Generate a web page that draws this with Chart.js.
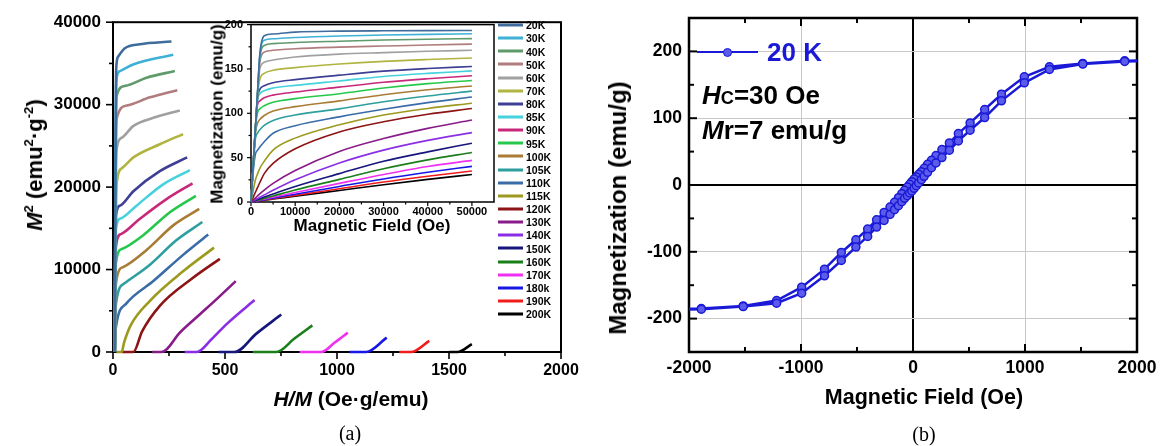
<!DOCTYPE html>
<html>
<head>
<meta charset="utf-8">
<script src="https://cdn.jsdelivr.net/npm/chart.js@4.4.1/dist/chart.umd.min.js"></script>
<style>
  html, body { margin: 0; padding: 0; background: #fff; }
  #stage { position: relative; width: 1171px; height: 446px; overflow: hidden;
           font-family: 'Liberation Sans', Arial, sans-serif; color: #000; }
  canvas { position: absolute; }
  .t { position: absolute; white-space: nowrap; font-weight: bold; line-height: 1; }
  .c { transform: translate(-50%, -50%); }
  .v { transform: translate(-50%, -50%) rotate(-90deg); }
  .l { transform: translateY(-50%); }
  .t sup { font-size: 0.6em; vertical-align: 0.65em; line-height: 0; }
  .cap { position: absolute; white-space: nowrap; line-height: 1; font-size: 20px;
         font-family: 'Liberation Serif', 'Times New Roman', serif; transform: translate(-50%, -50%); }
  #legendA { position: absolute; left: 498px; top: 25px; }
  .lgrow { position: absolute; left: 0; display: flex; align-items: center; height: 13px;
           transform: translateY(-50%); }
  .sw { display: inline-block; width: 25px; height: 3px; }
  .lt { margin-left: 3px; font-size: 10.5px; font-weight: bold; line-height: 1; }
</style>
</head>
<body>
<div id="stage">
  <canvas id="arrott" width="600" height="446" style="left:0;top:0"></canvas>
  <canvas id="isotherms" width="305" height="230" style="left:195px;top:10px"></canvas>
  <canvas id="loop" width="571" height="446" style="left:600px;top:0"></canvas>

  <!-- panel (a) labels -->
  <div class="t v" style="left:35px;top:165px;font-size:22px"><i>M</i><sup>2</sup> (emu<sup>2</sup>·g<sup>-2</sup>)</div>
  <div class="t c" style="left:351px;top:398px;font-size:21px"><i>H/M</i> (Oe·g/emu)</div>
  <div class="cap" style="left:350px;top:433px">(a)</div>
  <div class="t v" style="left:217px;top:114px;font-size:17px">Magnetization (emu/g)</div>
  <div class="t c" style="left:372px;top:225px;font-size:17px">Magnetic Field (Oe)</div>
  <div id="legendA"></div>

  <!-- panel (b) labels -->
  <div class="t v" style="left:618px;top:208px;font-size:24px">Magnetization (emu/g)</div>
  <div class="t c" style="left:924px;top:398px;font-size:21.5px">Magnetic Field (Oe)</div>
  <div class="cap" style="left:924px;top:434px">(b)</div>
  <div id="legendB"></div>
  <div class="t l" style="left:702px;top:95px;font-size:26px"><i>H</i><span style="font-size:0.7em">C</span>=30 Oe</div>
  <div class="t l" style="left:702px;top:130px;font-size:26px"><i>M</i>r=7 emu/g</div>
</div>

<script>
// ---- Temperatures of the isotherms and their line colours ----
const temperatures = ['20K','30K','40K','50K','60K','70K','80K','85K','90K','95K','100K','105K',
                      '110K','115K','120K','130K','140K','150K','160K','170K','180k','190K','200K'];
const seriesColors = ['#3f6c9b','#3fb0d6','#5f9a6a','#b07c7c','#a0a0a0','#b0b440','#3d3f94','#46d2dc',
                      '#c8287a','#26c84c','#a87c34','#2e9e9e','#3a6ca8','#9c9a1e','#8c1414','#881c88',
                      '#8a2ee6','#16167c','#1a7e1a','#f030f0','#1818e6','#f01c1c','#000000'];

// ---- Arrott plot: [H/M (Oe·g/emu), M² (emu²·g⁻²)] per temperature ----
const arrott20  = [[8,0],[11,22000],[13,32000],[16,35000],[24,35860],[53,36850],[120,37330],[261,37650]];
const arrott30  = [[8,0],[11,21000],[13,30000],[16.5,33280],[31,34070],[90,34870],[269,36060]];
const arrott40  = [[8,0],[11,19000],[13,27500],[16.3,31080],[53.5,32280],[150,33270],[276,34070]];
const arrott50  = [[8,0],[11,18000],[13,25000],[16.3,28300],[61,29890],[165,30885],[287,31760]];
const arrott60  = [[8,0],[11,16000],[13,21500],[16,24520],[40,26000],[90,27400],[180,28400],[298,29290]];
const arrott70  = [[8,0],[11,12000],[13,16500],[17,20600],[40,22300],[91,23600],[209,25200],[313,26430]];
const arrott80  = [[8,0],[11,12000],[13.4,16560],[31,17750],[91,19500],[209,21930],[331,23600]];
const arrott85  = [[8,0],[11,11000],[13,14960],[31,16150],[105,17750],[224,20340],[343,22050]];
const arrott90  = [[8,0],[11,9500],[13,12800],[35,14300],[120,16160],[239,18550],[355,20460]];
const arrott95  = [[8,0],[11,8000],[13,10800],[40,12500],[135,14170],[254,16950],[370,18945]];
const arrott100 = [[8,0],[11,6000],[13,8300],[45,10300],[150,12380],[269,15360],[385,17350]];
const arrott105 = [[8,0],[11,4200],[13,5800],[50,8300],[165,10590],[284,13570],[399,15760]];
const arrott110 = [[8,0],[11,2200],[13,3000],[60,5900],[180,8600],[313,11780],[425,14250]];
const arrott115 = [[15,0],[38.6,0],[50,1200],[80,3300],[165,6210],[313,9790],[451,12660]];
const arrott120 = [[40,0],[91,0],[130,2500],[209,5600],[350,8850],[477,11300]];
const arrott130 = [[175,0],[217,0],[300,2400],[387,4550],[470,6600],[548,8600]];
const arrott140 = [[320,0],[373,0],[440,1550],[506,3350],[632,6300]];
const arrott150 = [[470,0],[543,0],[640,2230],[751,4540]];
const arrott160 = [[624,0],[729,0],[810,1630],[890,3224]];
const arrott170 = [[833,0],[930,0],[990,1150],[1048,2350]];
const arrott180 = [[1056,0],[1130,0],[1222,1750]];
const arrott190 = [[1278,0],[1330,0],[1412,1350]];
const arrott200 = [[1501,0],[1538,0],[1602,955]];
const arrottXTicks = [0, 500, 1000, 1500, 2000];
const arrottYTicks = [0, 10000, 20000, 30000, 40000];

// ---- Inset: magnetization (emu/g) vs applied field (Oe) ----
const fieldOe = [0, 500, 1000, 1500, 2000, 3000, 5000, 10000, 20000, 30000, 40000, 50000];
const mag20  = [0, 42, 83, 125, 167, 187.5, 189.4, 191.5, 192.6, 193, 193.2, 193.3];
const mag30  = [0, 42, 83, 125, 165, 182.4, 184, 185.5, 187.2, 188.2, 189, 189.6];
const mag40  = [0, 42, 83, 125, 163, 176.5, 178.5, 179.8, 181.3, 182.6, 183.5, 184.2];
const mag50  = [0, 42, 83, 124, 158, 169, 171, 172.8, 174.6, 175.8, 177, 178];
const mag60  = [0, 42, 83, 123, 150, 157.5, 160, 163.5, 166.7, 168.4, 169.9, 171];
const mag70  = [0, 42, 83, 120, 138, 145, 148.5, 151.5, 155.5, 158.5, 160.6, 162.3];
const mag80  = [0, 42, 83, 118, 127, 131, 134.5, 138, 143, 147.5, 150.5, 152.8];
const mag85  = [0, 42, 83, 115, 122, 125.5, 128.5, 131.5, 136.5, 141.5, 145, 147.8];
const mag90  = [0, 42, 83, 110, 114, 117.5, 120.5, 124, 129.5, 135, 139, 142.3];
const mag95  = [0, 42, 83, 101, 105, 108.5, 112.5, 116.5, 122, 128.5, 133.5, 137];
const mag100 = [0, 42, 78, 89, 93, 97.5, 102.5, 107.5, 114, 121, 126.5, 130.8];
const mag105 = [0, 38, 71, 78, 81.5, 86.5, 92, 98, 105, 113, 119.5, 125];
const mag110 = [0, 34, 54, 58.5, 62, 68, 77.5, 86, 96, 104.5, 112, 118.4];
const mag115 = [0, 13, 25, 32, 38, 46, 58.5, 72, 87, 98, 105.5, 111.4];
const mag120 = [0, 5.5, 11, 16.5, 22, 32, 43.5, 60, 79, 90.5, 99, 105.4];
const mag130 = [0, 2.3, 4.6, 6.9, 9.2, 13.5, 21, 35.5, 57, 71.5, 83, 92.4];
const mag140 = [0, 1.3, 2.7, 4, 5.4, 8, 13.2, 25, 44, 58.5, 69.5, 78.2];
const mag150 = [0, 0.9, 1.8, 2.8, 3.7, 5.5, 9, 17.5, 32, 46, 56.5, 66.3];
const mag160 = [0, 0.7, 1.4, 2.1, 2.7, 4.1, 6.8, 13.5, 25.5, 37.5, 47.5, 55.9];
const mag170 = [0, 0.5, 1.1, 1.6, 2.2, 3.2, 5.4, 10.7, 21, 31, 40, 46.9];
const mag180 = [0, 0.4, 0.9, 1.3, 1.8, 2.7, 4.4, 8.8, 17.5, 26, 33.5, 40.2];
const mag190 = [0, 0.4, 0.8, 1.1, 1.5, 2.3, 3.8, 7.5, 15, 22.5, 29, 35];
const mag200 = [0, 0.3, 0.7, 1, 1.3, 2, 3.3, 6.5, 13, 19.5, 25.5, 31];
const insetXTicks = [0, 10000, 20000, 30000, 40000, 50000];
const insetYTicks = [0, 50, 100, 150, 200];

// ---- Hysteresis loop at 20 K: field (Oe) and magnetization (emu/g) ----
const loopFieldDown = [2400, 1890, 1516, 1218, 994, 790, 640, 510, 405, 325, 258, 205, 165, 130, 100, 75, 50, 30, 10,
                       -10, -30, -50, -75, -100, -130, -165, -205, -258, -325, -405, -510, -640, -790, -994, -1218, -1516, -1890, -2400];
const loopMagDown   = [187, 186, 182, 177, 162, 136, 113, 93, 77, 63, 53, 44, 37, 31, 25, 20, 16, 12, 9,
                       5, 1, -3, -8, -13, -19, -26, -33, -41, -52, -66, -82, -101, -126, -153, -173, -181, -185, -186];
const loopFieldUp   = [-2400, -1890, -1516, -1218, -994, -790, -640, -510, -405, -325, -258, -205, -165, -130, -100, -75, -50, -30, -10,
                       10, 30, 50, 75, 100, 130, 165, 205, 258, 325, 405, 510, 640, 790, 994, 1218, 1516, 1890, 2400];
const loopMagUp     = [-187, -186, -182, -177, -162, -136, -113, -93, -77, -63, -53, -44, -37, -31, -25, -20, -16, -12, -9,
                       -5, -1, 3, 8, 13, 19, 26, 33, 41, 52, 66, 82, 101, 126, 153, 173, 181, 185, 186];
const loopLabel = '20 K';
const loopXTicks = [-2000, -1000, 0, 1000, 2000];
const loopYTicks = [-200, -100, 0, 100, 200];

// ---------------------------------------------------------------------------
const arrottSeries = [arrott20, arrott30, arrott40, arrott50, arrott60, arrott70, arrott80, arrott85, arrott90,
                      arrott95, arrott100, arrott105, arrott110, arrott115, arrott120, arrott130, arrott140,
                      arrott150, arrott160, arrott170, arrott180, arrott190, arrott200];
const magSeries = [mag20, mag30, mag40, mag50, mag60, mag70, mag80, mag85, mag90, mag95, mag100, mag105,
                   mag110, mag115, mag120, mag130, mag140, mag150, mag160, mag170, mag180, mag190, mag200];

Chart.defaults.color = '#000';
Chart.defaults.font.family = "'Liberation Sans', Arial, sans-serif";
Chart.defaults.font.weight = 'bold';

// Frame box plus tick marks placed through each scale's own pixel mapping
const frame = {
  id: 'frame',
  beforeDraw(chart, args, o) {
    if (!o.fill) return;
    const a = chart.chartArea, ctx = chart.ctx;
    ctx.save();
    ctx.fillStyle = o.fill;
    ctx.fillRect(a.left, a.top, a.right - a.left, a.bottom - a.top);
    ctx.restore();
  },
  beforeDatasetsDraw(chart, args, o) {
    const {ctx, chartArea: a, scales} = chart;
    ctx.save();
    ctx.strokeStyle = '#000';
    (o.marks || []).forEach(m => {
      const s = scales[m.scale];
      const end = m.to !== undefined ? m.to : s.max;
      const n = Math.round((end - s.min) / m.step);
      ctx.lineWidth = m.width;
      for (let i = 0; i <= n; i++) {
        const v = s.min + i * m.step;
        const major = Math.abs(v / m.major - Math.round(v / m.major)) < 1e-6;
        const len = major ? m.len : m.minorLen;
        const d = m.inward ? len : -len;
        const p = s.getPixelForValue(v);
        m.sides.forEach(side => {
          ctx.beginPath();
          if (side === 'bottom') { ctx.moveTo(p, a.bottom); ctx.lineTo(p, a.bottom - d); }
          else if (side === 'top') { ctx.moveTo(p, a.top); ctx.lineTo(p, a.top + d); }
          else if (side === 'left') { ctx.moveTo(a.left, p); ctx.lineTo(a.left + d, p); }
          else { ctx.moveTo(a.right, p); ctx.lineTo(a.right - d, p); }
          ctx.stroke();
        });
      }
    });
    ctx.lineWidth = o.lineWidth;
    ctx.strokeRect(a.left, a.top, a.right - a.left, a.bottom - a.top);
    ctx.restore();
  }
};

const setTicks = values => scale => { scale.ticks = values.map(v => ({ value: v })); };
const plainLabel = v => String(v);

// ---- Panel (a): Arrott plot ----
new Chart(document.getElementById('arrott'), {
  type: 'scatter',
  data: {
    datasets: temperatures.map((t, i) => ({
      label: t,
      data: arrottSeries[i].map(([x, y]) => ({ x, y })),
      showLine: true,
      borderColor: seriesColors[i],
      backgroundColor: seriesColors[i],
      borderWidth: 2.6,
      pointRadius: 0,
      cubicInterpolationMode: 'monotone',
      clip: false
    }))
  },
  options: {
    responsive: false, animation: false, events: [],
    layout: { padding: { top: 17, right: 39, left: 0, bottom: 0 } },
    plugins: {
      legend: { display: false }, tooltip: { enabled: false },
      frame: { lineWidth: 2, marks: [
        { scale: 'x', step: 250, major: 500, len: 7, minorLen: 4, sides: ['bottom'], inward: false, width: 1.6 },
        { scale: 'y', step: 5000, major: 10000, len: 7, minorLen: 4, sides: ['left'], inward: false, width: 1.6 }
      ] }
    },
    scales: {
      x: {
        type: 'linear', min: 0, max: 2000,
        afterBuildTicks: setTicks(arrottXTicks),
        afterFit: s => { s.height = 94; },
        grid: { display: false, drawTicks: false }, border: { display: false },
        ticks: { padding: 9, autoSkip: false, maxRotation: 0, font: { size: 16, weight: 'bold' }, callback: plainLabel }
      },
      y: {
        type: 'linear', min: 0, max: 40000,
        afterBuildTicks: setTicks(arrottYTicks),
        afterFit: s => { s.width = 113; },
        grid: { display: false, drawTicks: false }, border: { display: false },
        ticks: { padding: 12, autoSkip: false, font: { size: 17, weight: 'bold' }, callback: plainLabel }
      }
    }
  },
  plugins: [frame]
});

// ---- Panel (a) inset: M–H isotherms ----
new Chart(document.getElementById('isotherms'), {
  type: 'scatter',
  data: {
    datasets: temperatures.map((t, i) => ({
      label: t,
      data: fieldOe.map((h, k) => ({ x: h, y: magSeries[i][k] })),
      showLine: true,
      borderColor: seriesColors[i],
      backgroundColor: seriesColors[i],
      borderWidth: 1.6,
      pointRadius: 0,
      cubicInterpolationMode: 'monotone',
      clip: false
    }))
  },
  options: {
    responsive: false, animation: false, events: [],
    layout: { padding: { top: 13, right: 6, left: 0, bottom: 0 } },
    plugins: {
      legend: { display: false }, tooltip: { enabled: false },
      frame: { lineWidth: 1.5, fill: '#fff', marks: [
        { scale: 'x', step: 5000, major: 10000, to: 50000, len: 4, minorLen: 2.5, sides: ['bottom'], inward: false, width: 1.2 },
        { scale: 'y', step: 25, major: 50, len: 4, minorLen: 2.5, sides: ['left'], inward: false, width: 1.2 }
      ] }
    },
    scales: {
      x: {
        type: 'linear', min: 0, max: 55000,
        afterBuildTicks: setTicks(insetXTicks),
        afterFit: s => { s.height = 38; },
        grid: { display: false, drawTicks: false }, border: { display: false },
        ticks: { padding: 3.5, autoSkip: false, maxRotation: 0, font: { size: 11, weight: 'bold' }, callback: plainLabel }
      },
      y: {
        type: 'linear', min: 0, max: 200,
        afterBuildTicks: setTicks(insetYTicks),
        afterFit: s => { s.width = 56; },
        grid: { display: false, drawTicks: false }, border: { display: false },
        ticks: { padding: 8, autoSkip: false, font: { size: 11, weight: 'bold' }, callback: plainLabel }
      }
    }
  },
  plugins: [frame]
});

// ---- Panel (b): hysteresis loop ----
const loopColor = '#1a1ad6';
const loopMarkerFill = '#5c5cec';
const gridTone = (v, edge) => v === 0 ? '#000' : (Math.abs(v) === edge ? 'rgba(0,0,0,0)' : '#c8c8c8');

new Chart(document.getElementById('loop'), {
  type: 'scatter',
  data: {
    datasets: [{
      label: loopLabel,
      data: loopFieldDown.map((h, i) => ({ x: h, y: loopMagDown[i] }))
              .concat(loopFieldUp.map((h, i) => ({ x: h, y: loopMagUp[i] }))),
      showLine: true,
      borderColor: loopColor,
      borderWidth: 2.5,
      pointRadius: 4,
      pointBorderWidth: 1.5,
      pointBorderColor: loopColor,
      pointBackgroundColor: loopMarkerFill,
      tension: 0
    }]
  },
  options: {
    responsive: false, animation: false, events: [],
    layout: { padding: { top: 18, right: 34, left: 0, bottom: 0 } },
    plugins: {
      legend: { display: false }, tooltip: { enabled: false },
      frame: { lineWidth: 2.5, marks: [
        { scale: 'x', step: 500, major: 1000, len: 8, minorLen: 5, sides: ['bottom', 'top'], inward: true, width: 2 },
        { scale: 'y', step: 50, major: 100, len: 8, minorLen: 5, sides: ['left', 'right'], inward: true, width: 2 }
      ] }
    },
    scales: {
      x: {
        type: 'linear', min: -2000, max: 2000,
        afterBuildTicks: setTicks(loopXTicks),
        afterFit: s => { s.height = 94; },
        grid: { drawTicks: false, color: c => gridTone(c.tick.value, 2000), lineWidth: c => c.tick.value === 0 ? 2 : 1 },
        border: { display: false },
        ticks: { padding: 6, autoSkip: false, maxRotation: 0, font: { size: 17.5, weight: 'bold' }, callback: plainLabel }
      },
      y: {
        type: 'linear', min: -250, max: 250,
        afterBuildTicks: setTicks(loopYTicks),
        afterFit: s => { s.width = 89; },
        grid: { drawTicks: false, color: c => gridTone(c.tick.value, 250), lineWidth: c => c.tick.value === 0 ? 2 : 1 },
        border: { display: false },
        ticks: { padding: 7, autoSkip: false, font: { size: 17.5, weight: 'bold' }, callback: plainLabel }
      }
    }
  },
  plugins: [frame]
});

// ---- Legends ----
const legendA = document.getElementById('legendA');
temperatures.forEach((t, i) => {
  const row = document.createElement('div');
  row.className = 'lgrow';
  row.style.top = (i * 13.14) + 'px';
  const sw = document.createElement('span');
  sw.className = 'sw';
  sw.style.background = seriesColors[i];
  const tx = document.createElement('span');
  tx.className = 'lt';
  tx.textContent = t;
  row.append(sw, tx);
  legendA.append(row);
});

const legendB = document.getElementById('legendB');
legendB.innerHTML =
  '<div style="position:absolute;left:697px;top:50.75px;width:61px;height:2.5px;background:' + loopColor + '"></div>' +
  '<div style="position:absolute;left:722.5px;top:47.5px;width:7px;height:7px;border-radius:50%;border:1.5px solid ' + loopColor +
  ';background:' + loopMarkerFill + '"></div>' +
  '<div class="t l" style="left:767px;top:52px;font-size:26px;color:' + loopColor + '">' + loopLabel + '</div>';
</script>
</body>
</html>
